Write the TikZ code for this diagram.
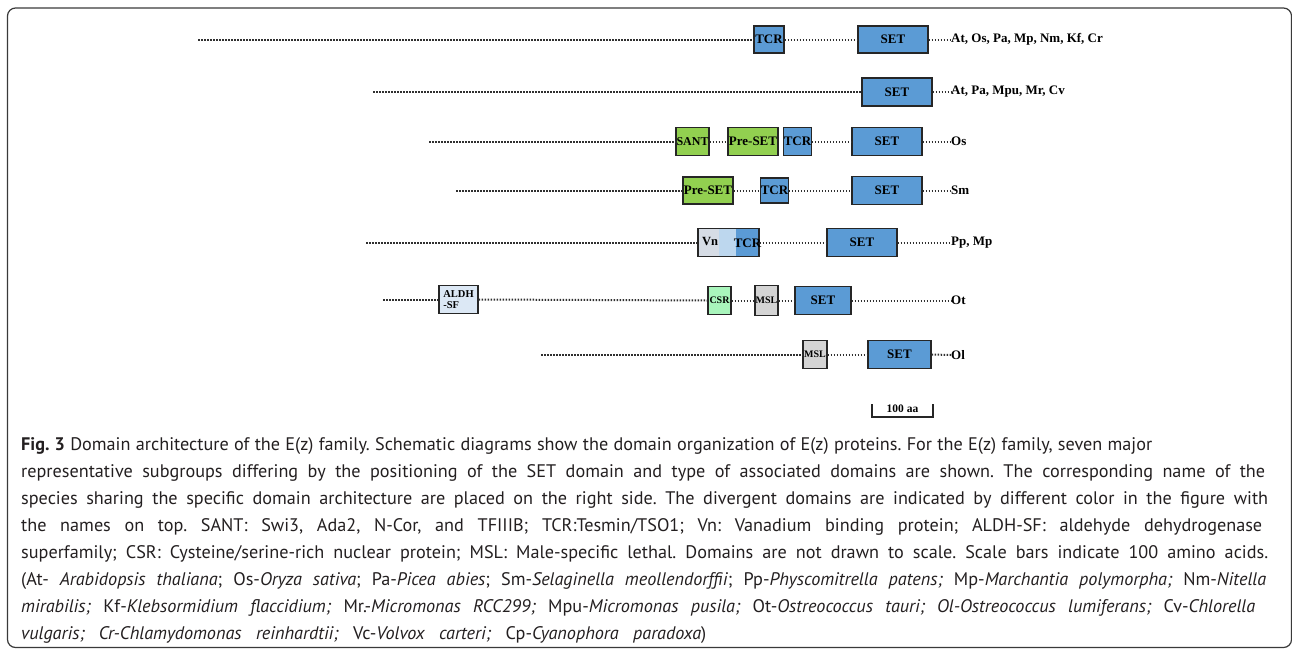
\documentclass[tikz,border=0pt]{standalone}
\usepackage{fontspec}
\setmainfont{Liberation Serif}
\newfontfamily\capfont{PT Sans}
\frenchspacing
\definecolor{setblue}{HTML}{5B9BD5}
\definecolor{pregreen}{HTML}{92D050}
\definecolor{csrgreen}{HTML}{A9F5BC}
\definecolor{mslgray}{HTML}{D4D4D4}
\definecolor{aldhblue}{HTML}{DCE8F5}
\definecolor{vngray}{HTML}{D6DCE5}
\definecolor{vnmid}{HTML}{BDD7EE}
\definecolor{boxline}{HTML}{262626}
\definecolor{dotcol}{HTML}{303030}
\definecolor{captext}{HTML}{231F20}
\definecolor{framecol}{HTML}{3A3A3A}
\tikzset{
  dom/.style={draw=boxline, line width=1.4pt, inner sep=0pt, font=\fontsize{13}{14}\selectfont\bfseries},
  bluebox/.style={dom, fill=setblue},
  greenbox/.style={dom, fill=pregreen},
  smallbox/.style={dom, font=\fontsize{10}{11}\selectfont\bfseries},
  dots/.style={draw=dotcol, line width=2pt, dash pattern=on 1.5pt off 1.5pt},
  species/.style={anchor=west, inner sep=0pt, font=\fontsize{13}{14}\selectfont\bfseries},
  capline/.style={anchor=base west, inner sep=0pt, text=captext, font=\capfont\fontsize{18.2}{22}\selectfont}
}
\begin{document}
\begin{tikzpicture}[x=1pt,y=-1pt]
\useasboundingbox (0,0) rectangle (1292,651);
\draw[framecol, line width=1.2pt, rounded corners=8pt] (7.5,8) rectangle (1291.5,647.5);

% Row 1
\coordinate (r1s) at (198,39.5);
\node[bluebox, minimum width=30pt, minimum height=27pt] (r1tcr) at (769,39.5) {TCR};
\node[bluebox, minimum width=70pt, minimum height=27pt] (r1set) at (893,39.5) {SET};
\node[species] (r1lab) at (951,39.5) {At, Os, Pa, Mp, Nm, Kf, Cr};
\draw[dots] (r1s) -- (r1tcr.west);
\draw[dots] (r1tcr.east) -- (r1set.west);
\draw[dots] (r1set.east) -- (r1lab.west);

% Row 2
\coordinate (r2s) at (373,92);
\node[bluebox, minimum width=70pt, minimum height=28pt] (r2set) at (897,92) {SET};
\node[species] (r2lab) at (951,92) {At, Pa, Mpu, Mr, Cv};
\draw[dots] (r2s) -- (r2set.west);
\draw[dots] (r2set.east) -- (r2lab.west);

% Row 3
\coordinate (r3s) at (429,141.5);
\node[greenbox, minimum width=33pt, minimum height=28pt, font=\fontsize{12}{13}\selectfont\bfseries] (r3sant) at (692.5,141.5) {SANT};
\node[greenbox, minimum width=50pt, minimum height=28pt] (r3pre) at (753,141.5) {Pre-SET};
\node[bluebox, minimum width=27pt, minimum height=28pt] (r3tcr) at (797.5,141.5) {TCR};
\node[bluebox, minimum width=70pt, minimum height=28pt] (r3set) at (887,141.5) {SET};
\node[species] (r3lab) at (951,141.5) {Os};
\draw[dots] (r3s) -- (r3sant.west);
\draw[dots] (r3sant.east) -- (r3pre.west);
\draw[dots] (r3tcr.east) -- (r3set.west);
\draw[dots] (r3set.east) -- (r3lab.west);

% Row 4
\coordinate (r4s) at (456,190.5);
\node[greenbox, minimum width=50pt, minimum height=27pt] (r4pre) at (708,190.5) {Pre-SET};
\node[bluebox, minimum width=25pt, minimum height=25pt] (r4tcr) at (774.5,190.5) {TCR};
\node[bluebox, minimum width=70pt, minimum height=28pt] (r4set) at (887,190.5) {SET};
\node[species] (r4lab) at (951,190.5) {Sm};
\draw[dots] (r4s) -- (r4pre.west);
\draw[dots] (r4pre.east) -- (r4tcr.west);
\draw[dots] (r4tcr.east) -- (r4set.west);
\draw[dots] (r4set.east) -- (r4lab.west);

% Row 5
\coordinate (r5s) at (366,242.5);
\fill[vngray] (698,228.5) rectangle (719,256.5);
\fill[vnmid] (719,228.5) rectangle (736,256.5);
\fill[setblue] (736,228.5) rectangle (759,256.5);
\node[dom, minimum width=61pt, minimum height=28pt] (r5vn) at (728.5,242.5) {};
\node[font=\fontsize{12.5}{13}\selectfont\bfseries, inner sep=0pt] (r5vnt) at (710,241.5) {Vn};
\node[font=\fontsize{13}{14}\selectfont\bfseries, inner sep=0pt] (r5tcrt) at (747.5,243.5) {TCR};
\node[bluebox, minimum width=70pt, minimum height=28pt] (r5set) at (862,242.5) {SET};
\node[species] (r5lab) at (951,242.5) {Pp, Mp};
\draw[dots] (r5s) -- (r5vn.west);
\draw[dots] (r5vn.east) -- (r5set.west);
\draw[dots] (r5set.east) -- (r5lab.west);

% Row 6
\coordinate (r6s) at (383,299.5);
\node[dom, fill=aldhblue, minimum width=39pt, minimum height=28pt, align=left, font=\fontsize{10.5}{11.5}\selectfont\bfseries] (r6aldh) at (458.5,299.5) {ALDH\\-SF};
\node[smallbox, fill=csrgreen, minimum width=23pt, minimum height=28pt] (r6csr) at (719.5,300.5) {CSR};
\node[smallbox, fill=mslgray, minimum width=23pt, minimum height=30pt] (r6msl) at (766.5,300.5) {MSL};
\node[bluebox, minimum width=56pt, minimum height=28pt] (r6set) at (823,300.5) {SET};
\node[species] (r6lab) at (951,300.5) {Ot};
\draw[dots] (r6s) -- (r6aldh.west);
\draw[dots] (r6aldh.east) -- (r6csr.west);
\draw[dots] (r6csr.east) -- (r6msl.west);
\draw[dots] (r6msl.east) -- (r6set.west);
\draw[dots] (r6set.east) -- (r6lab.west);

% Row 7
\coordinate (r7s) at (541,354.5);
\node[smallbox, fill=mslgray, minimum width=24pt, minimum height=28pt] (r7msl) at (815,354.5) {MSL};
\node[bluebox, minimum width=63pt, minimum height=28pt] (r7set) at (899.5,354.5) {SET};
\node[species] (r7lab) at (951,355) {Ol};
\draw[dots] (r7s) -- (r7msl.west);
\draw[dots] (r7msl.east) -- (r7set.west);
\draw[dots] (r7set.east) -- (r7lab.west);

% Scale bar
\coordinate (sb1) at (872,404);
\coordinate (sb2) at (933,404);
\draw[boxline, line width=1.3pt] (sb1) -- ++(0,13) -| (sb2);
\node[font=\fontsize{11.5}{12}\selectfont\bfseries, inner sep=0pt] (sbt) at (902.5,409) {100 aa};

% Caption
\node[capline] (c1) at (21,450) {\makebox[1131pt][s]{\textbf{Fig. 3} Domain architecture of the E(z) family. Schematic diagrams show the domain organization of E(z) proteins. For the E(z) family, seven major}};
\node[capline] (c2) at (21,477) {\makebox[1244pt][s]{representative subgroups differing by the positioning of the SET domain and type of associated domains are shown. The corresponding name of the}};
\node[capline] (c3) at (21,504) {\makebox[1247pt][s]{species sharing the specific domain architecture are placed on the right side. The divergent domains are indicated by different color in the figure with}};
\node[capline] (c4) at (21,531) {\makebox[1241pt][s]{the names on top. SANT: Swi3, Ada2, N-Cor, and TFIIIB; TCR:Tesmin/TSO1; Vn: Vanadium binding protein; ALDH-SF: aldehyde dehydrogenase}};
\node[capline] (c5) at (21,558) {\makebox[1247pt][s]{superfamily; CSR: Cysteine/serine-rich nuclear protein; MSL: Male-specific lethal. Domains are not drawn to scale. Scale bars indicate 100 amino acids.}};
\node[capline] (c6) at (21,585) {\makebox[1245pt][s]{(At- \textit{Arabidopsis thaliana}; Os-\textit{Oryza sativa}; Pa-\textit{Picea abies}; Sm-\textit{Selaginella meollendorffii}; Pp-\textit{Physcomitrella patens;} Mp-\textit{Marchantia polymorpha;} Nm-\textit{Nitella}}};
\node[capline] (c7) at (21,612) {\makebox[1234pt][s]{\textit{mirabilis;} Kf-\textit{Klebsormidium flaccidium;} Mr.-\textit{Micromonas RCC299;} Mpu-\textit{Micromonas pusila;} Ot-\textit{Ostreococcus tauri; Ol-Ostreococcus lumiferans;} Cv-\textit{Chlorella}}};
\node[capline] (c8) at (21,639) {\makebox[685pt][s]{\textit{vulgaris; Cr-Chlamydomonas reinhardtii;} Vc-\textit{Volvox carteri;} Cp-\textit{Cyanophora paradoxa})}};
\end{tikzpicture}
\end{document}
